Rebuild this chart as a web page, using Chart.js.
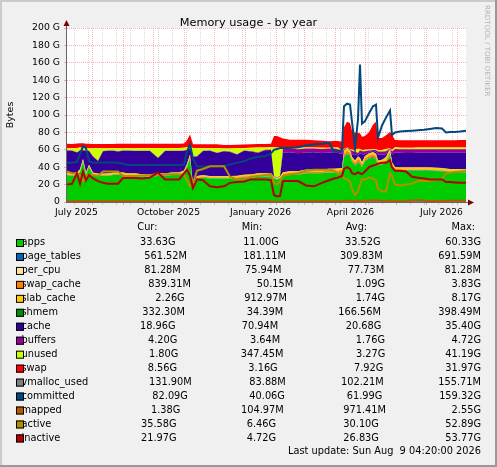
<!DOCTYPE html>
<html>
<head>
<meta charset="utf-8">
<title>Memory usage - by year</title>
<script src="https://cdn.jsdelivr.net/npm/chart.js@4.4.1/dist/chart.umd.min.js"></script>
<style>
    html, body { margin: 0; padding: 0; background: #f0f0f0; }
    #memoryChart { display: block; }
</style>
</head>
<body>
<canvas id="memoryChart" width="497" height="467"></canvas>
<script>
(function() {
    'use strict';

    // Sample days, counted from 1 July 2025 (graph runs 7 Jul 2025 - 9 Aug 2026)
    const days = [6, 11, 16, 19, 22, 25, 28, 32, 37, 42,
        47, 52, 57, 62, 67, 74, 81, 89, 97, 104,
        111, 118, 123, 126, 129, 132, 136, 142, 149, 156,
        163, 169, 176, 183, 190, 197, 204, 210, 213, 216,
        219, 222, 229, 237, 245, 253, 261, 268, 273, 277,
        281, 283, 286, 289, 291, 294, 297, 299, 301, 304,
        308, 312, 315, 317, 321, 325, 329, 331, 334, 339,
        345, 351, 357, 363, 369, 375, 381, 385, 389, 394,
        399, 405];

    // Stacked areas (GiB), bottom to top
    const apps = [31, 30, 31, 34, 46, 31, 40, 31, 30, 30,
        30, 31, 31, 31, 30, 30, 29, 29, 30, 30,
        31, 31, 33, 40, 50, 16, 27, 28, 27, 27,
        27, 27, 27, 28, 28, 29, 29, 29, 27, 26,
        27, 30, 31, 31, 33, 33, 33, 34, 34, 34,
        34, 52, 55, 53, 46, 42, 45, 44, 40, 47,
        50, 51, 49, 42, 43, 45, 54, 40, 36, 36,
        36, 36, 36, 36, 36, 35.5, 35, 34.5, 34, 34,
        33.8, 33.6];
    const pageTables = [0.19, 0.19, 0.2, 0.2, 0.21, 0.2, 0.2, 0.2, 0.19, 0.19,
        0.19, 0.2, 0.2, 0.2, 0.2, 0.2, 0.21, 0.21, 0.2, 0.2,
        0.2, 0.2, 0.22, 0.3, 0.35, 0.2, 0.2, 0.2, 0.19, 0.19,
        0.19, 0.2, 0.2, 0.21, 0.22, 0.23, 0.24, 0.25, 0.25, 0.25,
        0.26, 0.3, 0.3, 0.3, 0.31, 0.32, 0.32, 0.33, 0.33, 0.33,
        0.4, 0.6, 0.65, 0.65, 0.55, 0.5, 0.55, 0.69, 0.5, 0.55,
        0.6, 0.62, 0.6, 0.5, 0.5, 0.52, 0.6, 0.5, 0.48, 0.48,
        0.5, 0.5, 0.51, 0.52, 0.52, 0.53, 0.54, 0.55, 0.55, 0.56,
        0.56, 0.56];
    const perCpu = [0.076, 0.076, 0.076, 0.076, 0.076, 0.076, 0.076, 0.076, 0.076, 0.076,
        0.076, 0.076, 0.076, 0.076, 0.076, 0.076, 0.076, 0.076, 0.076, 0.076,
        0.076, 0.076, 0.076, 0.076, 0.076, 0.076, 0.077, 0.077, 0.077, 0.077,
        0.077, 0.077, 0.077, 0.077, 0.077, 0.077, 0.077, 0.077, 0.077, 0.077,
        0.077, 0.078, 0.078, 0.078, 0.078, 0.078, 0.078, 0.078, 0.078, 0.078,
        0.078, 0.078, 0.078, 0.078, 0.078, 0.078, 0.078, 0.078, 0.078, 0.078,
        0.078, 0.078, 0.078, 0.078, 0.078, 0.078, 0.078, 0.078, 0.08, 0.08,
        0.08, 0.08, 0.08, 0.08, 0.08, 0.08, 0.081, 0.081, 0.081, 0.081,
        0.081, 0.081];
    const swapCache = [0.6, 0.6, 0.9, 1.2, 1.0, 0.8, 0.7, 0.7, 0.6, 0.6,
        0.6, 0.6, 0.7, 0.7, 0.7, 0.8, 0.8, 0.8, 0.8, 0.8,
        0.8, 0.8, 0.9, 1.2, 1.5, 1.0, 0.9, 0.8, 0.8, 0.8,
        0.8, 0.9, 1.0, 1.2, 1.4, 1.6, 1.7, 1.8, 0.5, 0.5,
        0.6, 1.8, 1.9, 1.9, 1.8, 1.8, 1.7, 1.7, 1.8, 1.9,
        2.2, 2.8, 3.2, 3.0, 2.5, 2.4, 3.8, 3.0, 2.5, 2.4,
        2.6, 2.8, 2.6, 2.3, 2.2, 2.3, 2.8, 2.2, 1.2, 1.0,
        0.9, 0.9, 0.9, 0.9, 0.9, 0.9, 0.9, 0.85, 0.85, 0.85,
        0.84, 0.84];
    const slabCache = [1.9, 1.8, 1.8, 1.9, 2.0, 1.8, 1.8, 1.7, 1.7, 1.7,
        1.8, 1.8, 1.8, 1.8, 1.7, 1.7, 1.7, 1.7, 1.8, 1.8,
        1.8, 1.8, 1.9, 2.2, 2.5, 1.5, 1.6, 1.6, 1.6, 1.6,
        1.6, 1.7, 1.7, 1.8, 1.8, 1.9, 1.9, 1.9, 1.0, 0.9,
        1.0, 2.0, 2.0, 2.0, 2.0, 2.0, 2.0, 2.0, 2.0, 2.1,
        2.2, 3.0, 3.0, 2.8, 2.5, 2.3, 2.5, 2.8, 2.4, 2.5,
        2.6, 2.8, 3.0, 2.4, 2.5, 3.5, 3.5, 2.5, 2.2, 2.1,
        2.1, 2.1, 2.2, 2.2, 2.2, 2.2, 2.2, 2.2, 2.2, 2.2,
        2.25, 2.26];
    const shmem = [0.12, 0.12, 0.13, 0.13, 0.13, 0.13, 0.13, 0.13, 0.13, 0.13,
        0.13, 0.13, 0.13, 0.14, 0.14, 0.14, 0.14, 0.14, 0.14, 0.14,
        0.14, 0.14, 0.14, 0.15, 0.15, 0.15, 0.15, 0.15, 0.15, 0.15,
        0.15, 0.15, 0.15, 0.15, 0.15, 0.15, 0.15, 0.15, 0.03, 0.03,
        0.04, 0.15, 0.15, 0.15, 0.15, 0.15, 0.15, 0.15, 0.15, 0.15,
        0.3, 0.3, 0.3, 0.3, 0.3, 0.3, 0.3, 0.3, 0.3, 0.3,
        0.3, 0.3, 0.3, 0.3, 0.3, 0.3, 0.3, 0.3, 0.33, 0.33,
        0.33, 0.33, 0.33, 0.33, 0.33, 0.33, 0.33, 0.33, 0.33, 0.33,
        0.33, 0.33];
    const cache = [25.2, 26.2, 22.7, 21.7, 10.2, 24.7, 15.7, 18.5, 14.5, 25.7,
        26.0, 25.0, 24.2, 25.0, 26.0, 25.7, 26.7, 26.7, 17.5, 25.7,
        24.7, 24.7, 22.7, 15.7, 6.5, 33.0, 22.5, 27.7, 29.0, 26.5,
        28.5, 27.5, 24.5, 27.5, 26.5, 23.5, 26.5, 26.5, 0.5, 0.5,
        0.5, 22.7, 21.7, 20.7, 19.7, 19.7, 19.2, 18.7, 18.7, 17.7,
        16.1, 1.1, 0.6, 0.6, 3.1, 7.1, 1.1, 5.1, 9.1, 2.1,
        1.1, 1.1, 2.1, 7.1, 6.1, 3.1, 0.2, 9.1, 16.5, 16.5,
        16.5, 16.5, 16.5, 16.5, 16.5, 17.0, 17.5, 18.0, 18.5, 18.5,
        18.7, 18.9];
    const buffers = [0.3, 0.3, 0.3, 0.3, 0.3, 0.3, 0.3, 0.3, 0.3, 0.3,
        0.3, 0.3, 0.3, 0.3, 0.3, 0.3, 0.3, 0.3, 0.3, 0.3,
        0.3, 0.3, 0.3, 0.3, 0.3, 0.3, 0.3, 0.3, 0.3, 0.3,
        0.4, 0.4, 0.4, 0.4, 0.5, 0.5, 0.5, 0.5, 0.1, 0.1,
        0.1, 4.5, 4.5, 4.5, 4.5, 4.5, 4.5, 4.5, 4.5, 4.5,
        3.5, 0.5, 0.3, 0.3, 3.5, 3.5, 3.0, 3.5, 3.5, 3.5,
        2.0, 1.0, 2.0, 3.5, 3.5, 3.5, 0.2, 3.5, 4.2, 4.2,
        4.2, 4.2, 4.2, 4.2, 4.2, 4.2, 4.2, 4.2, 4.2, 4.2,
        4.2, 4.2];
    const unused = [2.5, 2.5, 5.0, 3.0, 2.5, 3.0, 3.0, 9.2, 14.2, 3.0,
        2.7, 2.7, 3.5, 2.7, 2.7, 3.0, 3.0, 3.0, 11.2, 3.0,
        3.0, 3.0, 3.0, 3.0, 2.2, 9.7, 9.2, 3.0, 2.7, 5.2,
        2.7, 3.7, 6.7, 2.7, 3.7, 5.7, 2.7, 2.7, 33.4, 34.4,
        33.4, 1.0, 1.0, 2.0, 1.0, 1.0, 1.5, 1.0, 1.0, 2.0,
        0.5, 0.5, 0.2, 0.2, 1.5, 1.5, 5.0, 1.5, 1.5, 1.5,
        1.0, 1.0, 1.0, 1.5, 1.5, 2.5, 0.2, 1.5, 1.8, 1.8,
        1.8, 1.8, 1.8, 1.8, 1.8, 1.8, 1.8, 1.8, 1.8, 1.8,
        1.8, 1.8];
    const swap = [5, 5, 5, 5, 5, 5, 5, 5, 5, 5,
        5, 5, 5, 5, 5, 5, 5, 5, 5, 5,
        5, 5, 5, 8, 14, 4.5, 4.5, 4.5, 4.5, 4.5,
        4, 4, 4, 4, 4, 4, 4, 4, 13, 13,
        11.5, 10.5, 9, 9, 9, 8.5, 8, 7.5, 7.5, 7.5,
        10, 25, 29, 30, 22, 20, 18, 18, 15, 16,
        20, 28, 31.5, 14, 14, 16, 18.5, 18, 8.5, 8.5,
        8.5, 8.5, 8.5, 8.5, 8.5, 8.5, 8.5, 8.5, 8.5, 8.5,
        8.6, 8.56];

    // Lines (GiB)
    const vmallocUsed = [0.09, 0.09, 0.09, 0.09, 0.09, 0.09, 0.09, 0.09, 0.09, 0.09,
        0.09, 0.09, 0.09, 0.09, 0.09, 0.09, 0.09, 0.09, 0.09, 0.09,
        0.1, 0.1, 0.1, 0.1, 0.1, 0.1, 0.1, 0.1, 0.1, 0.1,
        0.1, 0.1, 0.1, 0.1, 0.1, 0.1, 0.1, 0.1, 0.1, 0.1,
        0.1, 0.1, 0.1, 0.1, 0.1, 0.1, 0.1, 0.1, 0.1, 0.1,
        0.12, 0.14, 0.15, 0.15, 0.14, 0.13, 0.14, 0.15, 0.13, 0.13,
        0.13, 0.14, 0.14, 0.13, 0.13, 0.13, 0.14, 0.13, 0.13, 0.13,
        0.13, 0.13, 0.13, 0.13, 0.13, 0.13, 0.13, 0.13, 0.13, 0.13,
        0.13, 0.13];
    const committed = [45, 45, 46, 55, 64, 62, 47, 45, 45.5, 45.5,
        45.5, 45.5, 45, 44, 42.5, 42.5, 42.5, 42.5, 42.5, 42.5,
        42.5, 42.5, 43, 58, 66, 50, 41, 40.5, 41, 41,
        41.5, 43, 45, 47, 50, 52, 52.5, 56, 60, 61,
        62, 62, 62, 63, 65, 66, 67, 68, 58, 58,
        60, 110, 113, 112, 92, 62, 95, 158, 90, 93,
        102, 110, 112, 74, 88, 97, 105, 77, 80, 81,
        81.5, 82, 82.5, 83, 84, 85, 84.5, 80, 80.5, 80.5,
        81, 82];
    const mapped = [0.9, 0.9, 1.0, 1.1, 1.2, 1.0, 1.0, 0.9, 0.9, 0.9,
        0.9, 0.9, 0.9, 0.9, 0.9, 0.9, 0.9, 0.9, 0.9, 0.9,
        0.9, 0.9, 1.0, 1.2, 1.3, 0.8, 0.8, 0.8, 0.8, 0.8,
        0.8, 0.8, 0.8, 0.8, 0.8, 0.8, 0.8, 0.8, 0.3, 0.2,
        0.3, 0.9, 0.9, 0.9, 1.0, 1.0, 1.0, 1.0, 1.0, 1.0,
        1.1, 1.3, 1.4, 1.3, 1.2, 1.2, 1.3, 1.4, 1.2, 1.3,
        1.5, 1.8, 2.0, 1.6, 1.2, 1.2, 1.3, 1.1, 1.0, 1.0,
        1.1, 1.6, 2.2, 1.4, 1.2, 1.2, 1.2, 1.3, 1.3, 1.3,
        1.35, 1.38];
    const active = [35, 33, 33, 30, 24, 30, 31, 31, 30, 35,
        35, 35, 35, 30, 30, 30, 30.5, 31, 31, 32,
        32, 32, 31, 25, 18, 22, 36, 38, 41, 41,
        41, 29, 26, 26, 29, 30, 31, 32, 22, 20,
        24, 30, 32, 33, 36, 37, 37, 37, 36, 32,
        31, 27, 26, 24, 15, 8, 12, 20, 26, 26,
        28, 27, 25, 15, 12, 12, 33, 30, 20, 19,
        20, 21, 24, 24, 24, 25, 26, 33, 34, 34.5,
        35, 35.5];
    const inactive = [20, 21, 33, 21, 35, 25, 31, 27, 24, 22,
        21, 21, 21, 27.5, 27.5, 27.5, 27, 28, 34, 26,
        26, 26, 33, 37, 30, 16, 26, 25, 18, 17,
        18, 22, 23, 23.5, 26, 26, 26, 25, 8, 6.5,
        7, 24, 24, 24, 19, 18, 22, 25, 27, 28,
        30, 38, 40, 38, 33, 32, 34, 33, 32, 35,
        40, 42, 43, 44, 45, 45, 48, 40, 36, 36,
        35, 29, 28, 27, 26, 26, 26, 23, 23, 22.5,
        22, 22];

    // X axis: month names sit in the middle of their month
    const xLabelDays = [15.5, 107.5, 199.5, 289.5, 380.5];
    const xLabels = ['July 2025', 'October 2025', 'January 2026', 'April 2026', 'July 2026'];
    const monthStartDays = [31, 62, 92, 123, 153, 184, 215, 243, 274, 304, 335, 365, 396];
    const minorGridDays = [13, 27, 41, 55, 69, 83, 97, 111, 125, 139, 167, 181, 195, 209,
        223, 237, 251, 265, 279, 293, 307, 321, 349, 363, 377, 391];

    // Legend table, as printed under the graph
    const seriesNames = ['apps', 'page_tables', 'per_cpu', 'swap_cache', 'slab_cache', 'shmem',
        'cache', 'buffers', 'unused', 'swap', 'vmalloc_used', 'committed', 'mapped', 'active', 'inactive'];
    const curText = ['33.63G', '561.52M', '81.28M', '839.31M', '2.26G', '332.30M', '18.96G', '4.20G',
        '1.80G', '8.56G', '131.90M', '82.09G', '1.38G', '35.58G', '21.97G'];
    const minText = ['11.00G', '181.11M', '75.94M', '50.15M', '912.97M', '34.39M', '70.94M', '3.64M',
        '347.45M', '3.16G', '83.88M', '40.06G', '104.97M', '6.46G', '4.72G'];
    const avgText = ['33.52G', '309.83M', '77.73M', '1.09G', '1.74G', '166.56M', '20.68G', '1.76G',
        '3.27G', '7.92G', '102.21M', '61.99G', '971.41M', '30.10G', '26.83G'];
    const maxText = ['60.33G', '691.59M', '81.28M', '3.83G', '8.17G', '398.49M', '35.40G', '4.72G',
        '41.19G', '31.97G', '155.71M', '159.32G', '2.55G', '52.89G', '53.77G'];

    const colors = ['#00CC00', '#0066B3', '#FFE39A', '#FF8000', '#FFCC00', '#008F00', '#330099',
        '#990099', '#CCFF00', '#FF0000', '#808080', '#00487D', '#B35A00', '#B38F00', '#B30000'];

    const FONT = '"DejaVu Sans", "Liberation Sans", sans-serif';
    const MAJOR_GRID = 'rgba(255, 0, 0, 0.3)';
    const MINOR_GRID = 'rgba(140, 140, 140, 0.35)';

    // rrdtool "\j" places the columns differently on every row, so keep measured x positions
    const legendRows = {
        firstY: 242.7,
        step: 13.96,
        curX: [140, 144.3, 144.3, 148.3, 155.3, 142.3, 140, 148, 149, 147.7, 149, 152.3, 151, 141, 141],
        minX: [243.3, 243.3, 245, 256.7, 244.3, 246.7, 241.7, 250, 240.7, 248.3, 249.3, 249.3, 241, 246.7, 246.7],
        avgX: [345, 340, 347.7, 355.7, 355.7, 338.3, 345.7, 355.7, 356, 354, 341, 346.7, 343.3, 343.3, 343.3],
        maxRight: 481
    };

    function xGridColor(value) {
        if (monthStartDays.indexOf(value) !== -1) return MAJOR_GRID;
        if (minorGridDays.indexOf(value) !== -1) return MINOR_GRID;
        return 'rgba(0, 0, 0, 0)';
    }

    function yGridColor(value) {
        return value % 20 === 0 ? MAJOR_GRID : MINOR_GRID;
    }

    /**
     * Frame, canvas, titles, axes with arrows and the legend table
     */
    const rrdDecor = {
        id: 'rrdDecor',
        beforeDraw(chart) {
            const ctx = chart.ctx;
            const w = chart.width, h = chart.height;
            const a = chart.chartArea;
            ctx.save();
            ctx.fillStyle = '#f0f0f0';
            ctx.fillRect(0, 0, w, h);
            ctx.fillStyle = '#cbcbcb';
            ctx.fillRect(0, 0, w, 2);
            ctx.fillRect(0, 0, 2, h);
            ctx.fillStyle = '#999999';
            ctx.fillRect(0, h - 2, w, 2);
            ctx.fillRect(w - 2, 0, 2, h);
            ctx.fillStyle = '#ffffff';
            ctx.fillRect(a.left, a.top, a.right - a.left, a.bottom - a.top);
            ctx.restore();
        },
        afterDraw(chart) {
            const ctx = chart.ctx;
            const a = chart.chartArea;
            ctx.save();

            // axes and arrows
            ctx.strokeStyle = '#666666';
            ctx.lineWidth = 1;
            ctx.beginPath();
            ctx.moveTo(a.left - 0.5, a.bottom + 1);
            ctx.lineTo(a.left - 0.5, a.top - 4);
            ctx.moveTo(a.left - 1, a.bottom + 0.5);
            ctx.lineTo(a.right + 4, a.bottom + 0.5);
            ctx.stroke();
            ctx.fillStyle = '#7f0000';
            ctx.beginPath();
            ctx.moveTo(a.left - 0.5, a.top - 8);
            ctx.lineTo(a.left - 3.5, a.top - 2);
            ctx.lineTo(a.left + 2.5, a.top - 2);
            ctx.closePath();
            ctx.fill();
            ctx.beginPath();
            ctx.moveTo(a.right + 8, a.bottom + 0.5);
            ctx.lineTo(a.right + 2, a.bottom - 2.5);
            ctx.lineTo(a.right + 2, a.bottom + 3.5);
            ctx.closePath();
            ctx.fill();

            // title
            ctx.fillStyle = '#000000';
            ctx.font = '11.3px ' + FONT;
            ctx.textAlign = 'center';
            ctx.textBaseline = 'alphabetic';
            ctx.fillText('Memory usage - by year', chart.width / 2, 25.5);

            // vertical axis title
            ctx.save();
            ctx.translate(11, (a.top + a.bottom) / 2);
            ctx.rotate(-Math.PI / 2);
            ctx.font = '9.5px ' + FONT;
            ctx.textBaseline = 'middle';
            ctx.fillText('Bytes', 0, 0);
            ctx.restore();

            // watermark
            ctx.save();
            ctx.translate(487, 5);
            ctx.rotate(Math.PI / 2);
            ctx.font = '7.1px ' + FONT;
            ctx.fillStyle = '#b4b4b4';
            ctx.textAlign = 'left';
            ctx.textBaseline = 'middle';
            ctx.fillText('RRDTOOL / TOBI OETIKER', 0, 0);
            ctx.restore();

            // legend table
            ctx.font = '9.8px ' + FONT;
            ctx.textBaseline = 'middle';
            ctx.fillStyle = '#000000';
            ctx.textAlign = 'left';
            ctx.fillText('Cur:', 137.3, 227.3);
            ctx.fillText('Min:', 241.7, 227.3);
            ctx.fillText('Avg:', 345.7, 227.3);
            ctx.textAlign = 'right';
            ctx.fillText('Max:', 475, 227.3);

            seriesNames.forEach(function(name, i) {
                const y = legendRows.firstY + i * legendRows.step;
                ctx.fillStyle = '#000000';
                ctx.textAlign = 'left';
                ctx.fillText(name, 21.5, y);
                ctx.fillText(curText[i], legendRows.curX[i], y);
                ctx.fillText(minText[i], legendRows.minX[i], y);
                ctx.fillText(avgText[i], legendRows.avgX[i], y);
                ctx.textAlign = 'right';
                ctx.fillText(maxText[i], legendRows.maxRight, y);

                ctx.fillStyle = colors[i];
                ctx.fillRect(16, y - 3.7, 8, 8);
                ctx.strokeStyle = '#000000';
                ctx.lineWidth = 1;
                ctx.strokeRect(16.5, y - 3.2, 7, 7);
            });

            ctx.fillStyle = '#000000';
            ctx.textAlign = 'right';
            ctx.fillText('Last update: Sun Aug  9 04:20:00 2026', 481, 451.7);
            ctx.restore();
        }
    };

    function areaSet(index, data) {
        return {
            label: seriesNames[index],
            data: data,
            backgroundColor: colors[index],
            borderColor: colors[index],
            borderWidth: 0,
            fill: index === 0 ? 'origin' : '-1',
            stack: 'memory',
            order: 10,
            pointRadius: 0,
            tension: 0
        };
    }

    function lineSet(index, data, order) {
        return {
            label: seriesNames[index],
            data: data,
            borderColor: colors[index],
            backgroundColor: colors[index],
            borderWidth: 2,
            fill: false,
            stack: seriesNames[index],
            order: order,
            pointRadius: 0,
            tension: 0
        };
    }

    const allXTicks = monthStartDays.concat(minorGridDays, xLabelDays).sort(function(p, q) { return p - q; });

    new Chart(document.getElementById('memoryChart'), {
        type: 'line',
        data: {
            labels: days,
            datasets: [
                areaSet(0, apps),
                areaSet(1, pageTables),
                areaSet(2, perCpu),
                areaSet(3, swapCache),
                areaSet(4, slabCache),
                areaSet(5, shmem),
                areaSet(6, cache),
                areaSet(7, buffers),
                areaSet(8, unused),
                areaSet(9, swap),
                lineSet(10, vmallocUsed, 5),
                lineSet(11, committed, 4),
                lineSet(12, mapped, 3),
                lineSet(13, active, 2),
                lineSet(14, inactive, 1)
            ]
        },
        options: {
            responsive: false,
            animation: false,
            events: [],
            layout: { padding: { left: 0, top: 28, right: 31, bottom: 245 } },
            plugins: {
                legend: { display: false },
                tooltip: { enabled: false }
            },
            scales: {
                x: {
                    type: 'linear',
                    min: 6,
                    max: 405,
                    afterBuildTicks: function(scale) {
                        scale.ticks = allXTicks.map(function(v) { return { value: v }; });
                    },
                    afterFit: function(scale) { scale.height = 20; },
                    border: { display: false, dash: [1, 1] },
                    grid: {
                        color: function(ctx) { return xGridColor(ctx.tick ? ctx.tick.value : null); },
                        tickColor: function(ctx) { return xGridColor(ctx.tick ? ctx.tick.value : null); },
                        tickLength: 3
                    },
                    ticks: {
                        autoSkip: false,
                        maxRotation: 0,
                        minRotation: 0,
                        padding: 2,
                        color: '#000000',
                        font: { family: FONT, size: 9.2 },
                        callback: function(value) {
                            const k = xLabelDays.indexOf(value);
                            return k === -1 ? '' : xLabels[k];
                        }
                    }
                },
                y: {
                    stacked: true,
                    min: 0,
                    max: 200,
                    afterFit: function(scale) { scale.width = 67; },
                    border: { display: false, dash: [1, 1] },
                    grid: {
                        color: function(ctx) { return yGridColor(ctx.tick ? ctx.tick.value : 0); },
                        tickColor: function(ctx) { return yGridColor(ctx.tick ? ctx.tick.value : 0); },
                        tickLength: 3
                    },
                    ticks: {
                        stepSize: 10,
                        padding: 4,
                        color: '#000000',
                        font: { family: FONT, size: 9.3 },
                        callback: function(value) {
                            if (value % 20 !== 0) return '';
                            return value === 0 ? '0' : value + ' G';
                        }
                    }
                }
            }
        },
        plugins: [rrdDecor]
    });
})();
</script>
</body>
</html>
